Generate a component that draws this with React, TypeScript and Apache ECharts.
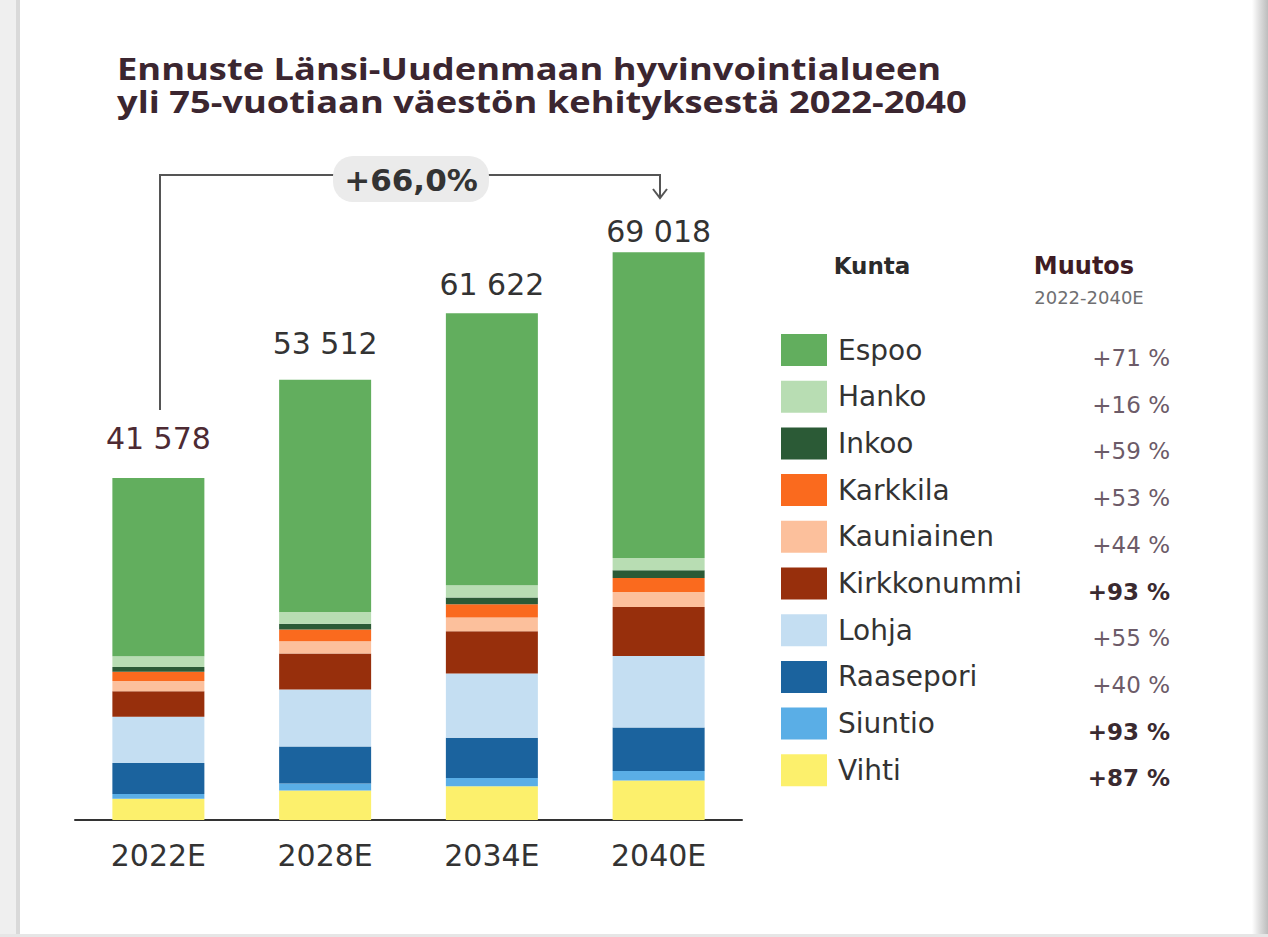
import React, { useEffect, useRef } from "react";
import * as echarts from "echarts";

const categories = ["2022E", "2028E", "2034E", "2040E"];
const totals = [41578, 53512, 61622, 69018];

// legend order (top of stack first)
const municipalities = ["Espoo", "Hanko", "Inkoo", "Karkkila", "Kauniainen", "Kirkkonummi", "Lohja", "Raasepori", "Siuntio", "Vihti"];
const espoo = [21673, 28212, 33092, 37153];
const hanko = [1302, 1430, 1480, 1510];
const inkoo = [579, 700, 820, 920];
const karkkila = [1111, 1450, 1600, 1700];
const kauniainen = [1271, 1480, 1680, 1830];
const kirkkonummi = [3088, 4380, 5150, 5960];
const lohja = [5619, 6930, 7800, 8710];
const raasepori = [3764, 4500, 4900, 5270];
const siuntio = [596, 830, 1000, 1150];
const vihti = [2575, 3600, 4100, 4815];
const seriesValues = [espoo, hanko, inkoo, karkkila, kauniainen, kirkkonummi, lohja, raasepori, siuntio, vihti];

const changeLabels = ["+71 %", "+16 %", "+59 %", "+53 %", "+44 %", "+93 %", "+55 %", "+40 %", "+93 %", "+87 %"];
const changeBold = [false, false, false, false, false, true, false, false, true, true];
const totalChange = "+66,0%";
const titleLines = ["Ennuste Länsi-Uudenmaan hyvinvointialueen", "yli 75-vuotiaan väestön kehityksestä 2022-2040"];

const colors = ["#62ae5e", "#b8ddb3", "#2b5a36", "#fa6a1e", "#fcc09c", "#972f0c", "#c4def2", "#1b639e", "#5aaee6", "#fcf06c"];

const fmt = (v: number) => String(v).replace(/\B(?=(\d{3})+(?!\d))/g, " ");

export default function App() {
  const ref = useRef<HTMLDivElement>(null);
  useEffect(() => {
    if (!ref.current) return;
    const chart = echarts.init(ref.current, null, { renderer: "svg" });
    const labelDistances = [25, 21, 14, 6];
    const n = municipalities.length;
    const series: any[] = [];
    for (let k = n - 1; k >= 0; k--) {
      const isTop = k === 0;
      series.push({
        name: municipalities[k],
        type: "bar",
        stack: "total",
        barWidth: 92,
        itemStyle: { color: colors[k] },
        data: seriesValues[k].map((v, i) =>
          isTop
            ? {
                value: v,
                label: {
                  show: true,
                  position: "top",
                  distance: labelDistances[i],
                  formatter: () => fmt(totals[i]),
                  color: i === 0 ? "#4d2a33" : "#333333",
                  fontSize: 30,
                  fontFamily: "DejaVu Sans",
                },
              }
            : v
        ),
      });
    }

    const graphics: any[] = [
      // frame
      { type: "rect", shape: { x: 0, y: 0, width: 16, height: 937 }, style: { fill: "#efefef" }, silent: true },
      { type: "rect", shape: { x: 16, y: 0, width: 4, height: 937 }, style: { fill: "#d9d9d9" }, silent: true },
      {
        type: "rect",
        shape: { x: 1252, y: 0, width: 16, height: 937 },
        style: {
          fill: new echarts.graphic.LinearGradient(0, 0, 1, 0, [
            { offset: 0, color: "#ffffff" },
            { offset: 0.5, color: "#dcdcdc" },
            { offset: 1, color: "#bdbdbd" },
          ]),
        },
        silent: true,
      },
      { type: "rect", shape: { x: 0, y: 934, width: 1268, height: 3 }, style: { fill: "#e6e6e6" }, silent: true },
      // title
      ...titleLines.map((t, i) => ({
        type: "text",
        x: 117,
        y: 68 + i * 33,
        scaleX: 1.21,
        style: { text: t, fill: "#3b2630", font: "bold 30px 'Open Sans'", align: "left", verticalAlign: "middle" },
      })),
      // bracket
      {
        type: "polyline",
        shape: { points: [[160, 410], [160, 175], [660, 175], [660, 198]] },
        style: { stroke: "#555", lineWidth: 2, fill: "none" },
      },
      {
        type: "polyline",
        shape: { points: [[653, 189], [660, 198], [667, 189]] },
        style: { stroke: "#555", lineWidth: 2, fill: "none" },
      },
      {
        type: "rect",
        shape: { x: 333, y: 156, width: 156, height: 46, r: 20 },
        style: { fill: "#ebebeb" },
      },
      {
        type: "text",
        x: 411,
        y: 180,
        style: {
          text: totalChange,
          fill: "#333",
          font: "bold 31px 'DejaVu Sans'",
          align: "center",
          verticalAlign: "middle",
        },
      },
      // legend headers
      {
        type: "text",
        x: 872,
        y: 266,
        style: { text: "Kunta", fill: "#2b2b2b", font: "bold 23px 'DejaVu Sans'", align: "center", verticalAlign: "middle" },
      },
      {
        type: "text",
        x: 1084,
        y: 266,
        style: { text: "Muutos", fill: "#3f1c24", font: "bold 24px 'DejaVu Sans'", align: "center", verticalAlign: "middle" },
      },
      {
        type: "text",
        x: 1089,
        y: 297,
        style: { text: "2022-2040E", fill: "#6f6f72", font: "18px 'DejaVu Sans'", align: "center", verticalAlign: "middle" },
      },
    ];

    municipalities.forEach((name, i) => {
      const cy = 350 + i * 46.7;
      graphics.push({
        type: "rect",
        shape: { x: 781, y: cy - 16, width: 46, height: 32 },
        style: { fill: colors[i] },
      });
      graphics.push({
        type: "text",
        x: 838,
        y: cy,
        style: { text: name, fill: "#333", font: "28px 'DejaVu Sans'", align: "left", verticalAlign: "middle" },
      });
      graphics.push({
        type: "text",
        x: 1170,
        y: cy + 8,
        style: {
          text: changeLabels[i],
          fill: changeBold[i] ? "#3a2a30" : "#6c5b68",
          font: (changeBold[i] ? "bold " : "") + "23px 'DejaVu Sans'",
          align: "right",
          verticalAlign: "middle",
        },
      });
    });

    chart.setOption({
      animation: false,
      backgroundColor: "#ffffff",
      grid: { left: 75, right: 526, top: 162, bottom: 117 },
      xAxis: {
        type: "category",
        data: categories,
        axisLine: { lineStyle: { color: "#333", width: 2 } },
        axisTick: { show: false },
        axisLabel: { fontSize: 30, color: "#333", fontFamily: "DejaVu Sans", margin: 20 },
      },
      yAxis: { type: "value", min: 0, max: 80000, show: false, splitLine: { show: false } },
      series,
      graphic: graphics,
    });
    return () => chart.dispose();
  }, []);
  return <div ref={ref} style={{ position: "fixed", left: 0, top: 0, width: 1268, height: 937 }} />;
}
